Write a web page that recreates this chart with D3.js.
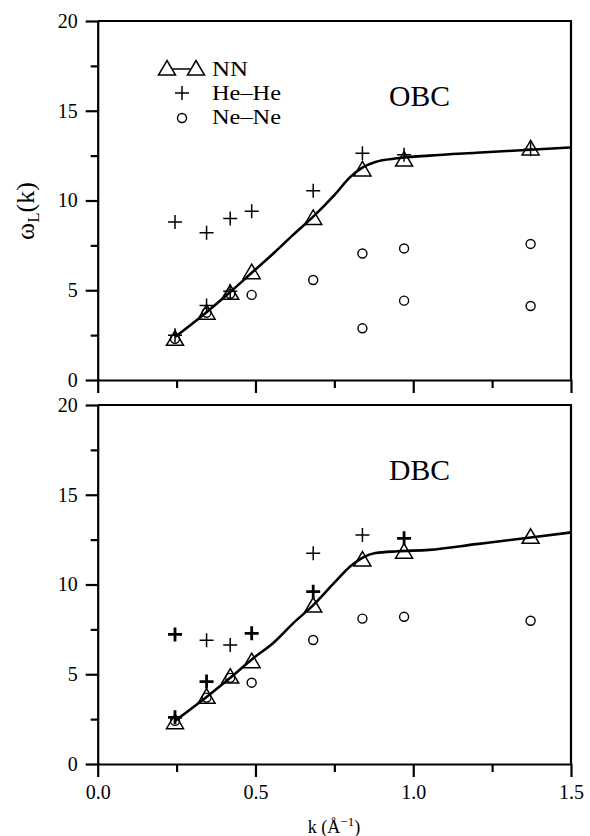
<!DOCTYPE html>
<html>
<head>
<meta charset="utf-8">
<script src="https://cdn.jsdelivr.net/npm/d3@7"></script>
<style>
  body { margin: 0; background: #fff; }
  text { font-family: "Liberation Serif", "Times New Roman", serif; fill: #000; }
</style>
</head>
<body>
<script>
// canvas size
const width = 590;
const height = 836;

// data: k values of the points
const kPoints = [0.245, 0.345, 0.42, 0.488, 0.683, 0.839, 0.971, 1.372];

// NN (triangles) for each panel
const nnTop = [2.27, 3.72, 4.83, 5.98, 9.0, 11.7, 12.25, 12.87];
const nnBottom = [2.3, 3.72, 4.84, 5.7, 8.8, 11.36, 11.8, 12.63];

// smooth NN curve
const curveK = [0.245, 0.35, 0.42, 0.49, 0.56, 0.62, 0.683, 0.75, 0.8, 0.84, 0.88, 0.95, 1.05, 1.2, 1.372, 1.5];
const curveTop = [2.4, 3.85, 4.9, 6.0, 7.1, 8.1, 9.1, 10.3, 11.3, 11.85, 12.15, 12.35, 12.5, 12.66, 12.83, 12.96];
const curveBottom = [2.4, 3.8, 4.8, 5.85, 6.8, 7.85, 8.85, 10.1, 11.0, 11.5, 11.75, 11.85, 11.93, 12.25, 12.62, 12.9];

// He-He (+), repeated pairs are degenerate points (drawn bold)
const heTop = [[0.245, 2.5], [0.245, 8.8], [0.345, 4.15], [0.345, 8.2], [0.42, 4.95], [0.42, 9.0],
  [0.488, 9.4], [0.683, 10.55], [0.839, 12.63], [0.971, 12.55], [1.372, 12.85]];
const heBottom = [[0.245, 7.22], [0.245, 7.22], [0.245, 2.6], [0.245, 2.6], [0.345, 6.9],
  [0.345, 4.59], [0.345, 4.59], [0.42, 6.63], [0.488, 7.28], [0.488, 7.28], [0.683, 11.74],
  [0.683, 9.6], [0.683, 9.6], [0.839, 12.76], [0.971, 12.57], [0.971, 12.57]];

// Ne-Ne (o)
const neTop = [[0.245, 2.3], [0.345, 3.75], [0.42, 4.8], [0.488, 4.74], [0.683, 5.57], [0.839, 7.05],
  [0.839, 2.88], [0.971, 7.33], [0.971, 4.42], [1.372, 7.58], [1.372, 4.12]];
const neBottom = [[0.245, 2.4], [0.345, 3.7], [0.42, 4.8], [0.488, 4.53], [0.683, 6.91], [0.839, 8.1],
  [0.971, 8.2], [1.372, 7.98]];

const xTicks = [0, 0.25, 0.5, 0.75, 1.0, 1.25, 1.5];
const yTicks = [0, 2.5, 5, 7.5, 10, 12.5, 15, 17.5, 20];
const legendLabels = ['NN', 'He\u2013He', 'Ne\u2013Ne'];

const svg = d3.select('body').append('svg')
  .attr('width', width)
  .attr('height', height);

// x scale shared by both panels
const xScale = d3.scaleLinear().domain([0, 1.5]).range([97.7, 571]);

const panels = [
  { top: 21, bottom: 380, name: 'OBC', nn: nnTop, curve: curveTop, he: heTop, ne: neTop, labels: false, legend: true },
  { top: 405, bottom: 764, name: 'DBC', nn: nnBottom, curve: curveBottom, he: heBottom, ne: neBottom, labels: true, legend: false }
];

const triPath = 'M0,-8.5L8.5,6L-8.5,6Z';

panels.forEach(function(p) {
  const yScale = d3.scaleLinear().domain([0, 20]).range([p.bottom, p.top]);
  const g = svg.append('g');

  // y axis
  const yAxis = d3.axisLeft(yScale)
    .tickValues(yTicks)
    .tickSize(12)
    .tickSizeOuter(0)
    .tickPadding(8)
    .tickFormat(function(d) { return d % 5 === 0 ? d : ''; });
  const ya = g.append('g')
    .attr('transform', 'translate(' + xScale(0) + ',0)')
    .call(yAxis);
  ya.selectAll('.tick line')
    .attr('x2', function(d) { return d % 5 === 0 ? -12 : -7; });

  // x axis
  const xAxis = d3.axisBottom(xScale)
    .tickValues(xTicks)
    .tickSize(13)
    .tickSizeOuter(0)
    .tickPadding(8)
    .tickFormat(function(d) { return p.labels && d % 0.5 === 0 ? d.toFixed(1) : ''; });
  const xa = g.append('g')
    .attr('transform', 'translate(0,' + p.bottom + ')')
    .call(xAxis);
  xa.selectAll('.tick line')
    .attr('y2', function(d) { return d % 0.5 === 0 ? 13 : 8; });

  [ya, xa].forEach(function(a) {
    a.attr('font-family', null);
    a.selectAll('path, line').attr('stroke', '#000').attr('stroke-width', 2.2);
    a.selectAll('text').style('font-size', '20px');
  });

  // top and right border
  g.append('path')
    .attr('d', 'M' + xScale(0) + ',' + p.top + 'H' + xScale(1.5) + 'V' + p.bottom)
    .attr('fill', 'none')
    .attr('stroke', '#000')
    .attr('stroke-width', 2.2);

  // NN curve
  const line = d3.line()
    .x(function(d, i) { return xScale(curveK[i]); })
    .y(function(d) { return yScale(d); })
    .curve(d3.curveMonotoneX);
  g.append('path')
    .datum(p.curve)
    .attr('d', line)
    .attr('fill', 'none')
    .attr('stroke', '#000')
    .attr('stroke-width', 2.6);

  // NN triangles
  g.selectAll('.tri')
    .data(p.nn)
    .enter()
    .append('path')
    .attr('class', 'tri')
    .attr('d', triPath)
    .attr('transform', function(d, i) { return 'translate(' + xScale(kPoints[i]) + ',' + yScale(d) + ')'; })
    .attr('fill', 'none')
    .attr('stroke', '#000')
    .attr('stroke-width', 1.5);

  // Ne-Ne circles
  g.selectAll('.ne')
    .data(p.ne)
    .enter()
    .append('circle')
    .attr('class', 'ne')
    .attr('cx', function(d) { return xScale(d[0]); })
    .attr('cy', function(d) { return yScale(d[1]); })
    .attr('r', 4.5)
    .attr('fill', 'none')
    .attr('stroke', '#000')
    .attr('stroke-width', 1.4);

  // He-He crosses, degenerate ones bold
  const heCount = d3.rollup(p.he, function(v) { return v.length; }, function(d) { return d[0] + ',' + d[1]; });
  g.selectAll('.he')
    .data(Array.from(heCount))
    .enter()
    .append('path')
    .attr('class', 'he')
    .attr('d', 'M-7,0H7M0,-7V7')
    .attr('transform', function(d) {
      const v = d[0].split(',').map(Number);
      return 'translate(' + xScale(v[0]) + ',' + yScale(v[1]) + ')';
    })
    .attr('fill', 'none')
    .attr('stroke', '#000')
    .attr('stroke-width', function(d) { return d[1] > 1 ? 2.8 : 1.5; });

  // panel name
  g.append('text')
    .attr('x', 389)
    .attr('y', p.top + (p.name === 'OBC' ? 85 : 75))
    .attr('textLength', 61)
    .attr('lengthAdjust', 'spacingAndGlyphs')
    .style('font-size', '29px')
    .text(p.name);

  // legend
  if (p.legend) {
    const lg = g.append('g');
    lg.append('line')
      .attr('x1', 167).attr('x2', 196)
      .attr('y1', 69).attr('y2', 69)
      .attr('stroke', '#000').attr('stroke-width', 1.5);
    [167, 196].forEach(function(x) {
      lg.append('path').attr('d', triPath)
        .attr('transform', 'translate(' + x + ',69)')
        .attr('fill', '#fff').attr('stroke', '#000').attr('stroke-width', 1.5);
    });
    lg.append('path').attr('d', 'M-7,0H7M0,-7V7')
      .attr('transform', 'translate(182,93)')
      .attr('stroke', '#000').attr('stroke-width', 1.5);
    lg.append('circle').attr('cx', 182).attr('cy', 118).attr('r', 4.5)
      .attr('fill', 'none').attr('stroke', '#000').attr('stroke-width', 1.4);
    lg.selectAll('.lt')
      .data(legendLabels)
      .enter()
      .append('text')
      .attr('x', 212)
      .attr('y', function(d, i) { return 76 + i * 24; })
      .attr('textLength', function(d, i) { return i === 0 ? 36 : 69; })
      .attr('lengthAdjust', 'spacingAndGlyphs')
      .style('font-size', '20px')
      .text(function(d) { return d; });
  }
});

// y axis title
svg.append('text')
  .attr('transform', 'translate(34,211) rotate(-90)')
  .attr('text-anchor', 'middle')
  .style('font-size', '26px')
  .html('\u03c9<tspan dy="5" style="font-size:17px">L</tspan><tspan dy="-5">(k)</tspan>');

// x axis title
svg.append('text')
  .attr('x', 334)
  .attr('y', 833)
  .attr('text-anchor', 'middle')
  .style('font-size', '18px')
  .html('k (\u00c5<tspan dy="-7" style="font-size:13px">\u22121</tspan><tspan dy="7">)</tspan>');
</script>
</body>
</html>
